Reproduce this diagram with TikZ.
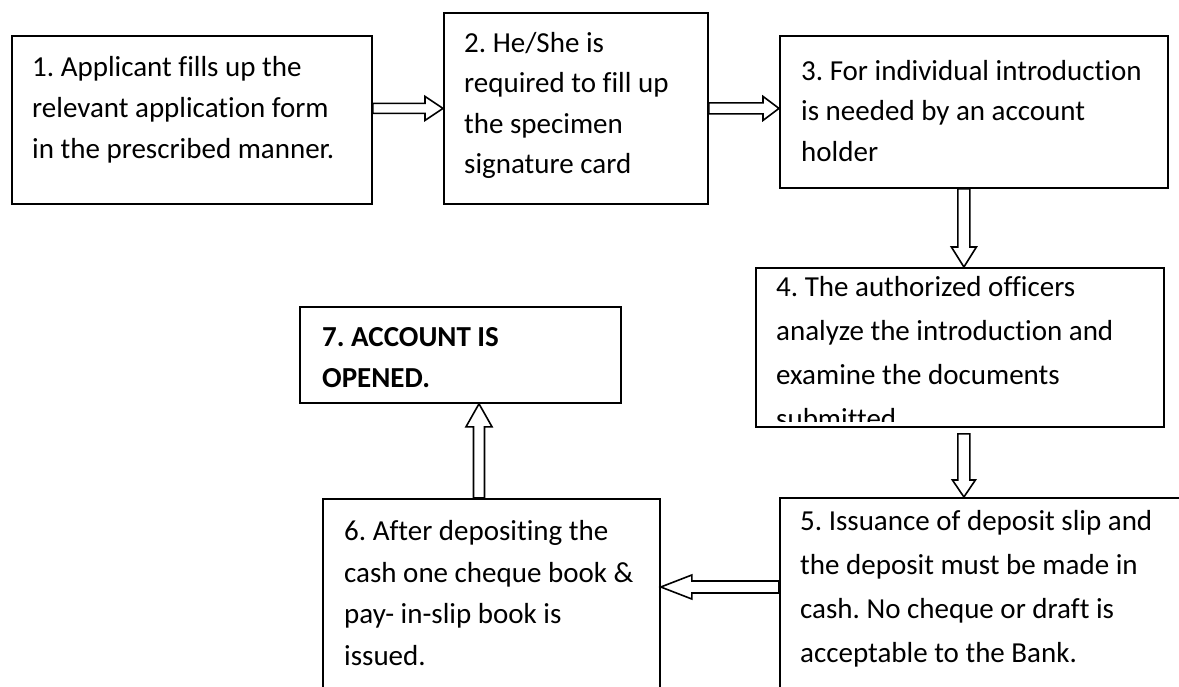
\documentclass[tikz,border=0pt]{standalone}
\usepackage{fontspec}
\setmainfont{Carlito}[Ligatures={NoCommon}]
\frenchspacing
\usetikzlibrary{calc}
\tikzset{
  box/.style={draw, line width=1.8pt, inner sep=0pt, anchor=north west},
  txt/.style={inner sep=0pt, anchor=north west, align=left},
  arrowdims/.code args={#1/#2/#3}{\def\arS{#1}\def\arH{#2}\def\arL{#3}},
  hollow/.style={draw, line width=1.6pt, line join=miter,
    to path={
      ($(\tikztotarget)!\arL!(\tikztostart)$) coordinate (hc)
      ($(\tikztostart)!\arS!90:(\tikztotarget)$)
      -- ($(hc)!\arS!90:(\tikztotarget)$)
      -- ($(hc)!\arH!90:(\tikztotarget)$)
      -- (\tikztotarget)
      -- ($(hc)!\arH!-90:(\tikztotarget)$)
      -- ($(hc)!\arS!-90:(\tikztotarget)$)
      -- ($(\tikztostart)!\arS!-90:(\tikztotarget)$)
      -- cycle}}
}
\begin{document}
\frenchspacing
\begin{tikzpicture}[x=1pt,y=-1pt]
\fill[white] (0,0) rectangle (1179,687);
\useasboundingbox (0,0) rectangle (1179,687);

% boxes
\node[box, minimum width=360pt, minimum height=168pt] (b1) at (11,35) {};
\node[box, minimum width=264pt, minimum height=191pt] (b2) at (443,12) {};
\node[box, minimum width=388pt, minimum height=152pt] (b3) at (779,35) {};
\node[box, minimum width=408pt, minimum height=159pt] (b4) at (755,267) {};
\node[box, minimum width=420pt, minimum height=230pt] (b5) at (779,497) {};
\node[box, minimum width=337pt, minimum height=230pt] (b6) at (322,498) {};
\node[box, minimum width=321pt, minimum height=96pt] (b7) at (299,306) {};

% texts
\node[txt, font={\fontsize{29}{41}\selectfont}] (t1) at (32,56)
  {1. Applicant fills up the\\relevant application form\\in the prescribed manner.};
\node[txt, font={\fontsize{29}{40.5}\selectfont}] (t2) at (464,32)
  {2. He/She is\\required to fill up\\the specimen\\signature card};
\node[txt, font={\fontsize{29}{40.5}\selectfont}] (t3) at (801,60)
  {3. For individual introduction\\is needed by an account\\holder};
\begin{scope}
  \clip (755,267) rectangle (1163,421);
  \node[txt, font={\fontsize{29}{44}\selectfont}] (t4) at (776,276)
    {4. The authorized officers\\analyze the introduction and\\examine the documents\\submitted};
\end{scope}
\node[txt, font={\fontsize{29}{44}\selectfont}] (t5) at (800,510)
  {5. Issuance of deposit slip and\\the deposit must be made in\\cash. No cheque or draft is\\acceptable to the Bank.};
\node[txt, font={\fontsize{29}{41.7}\selectfont}] (t6) at (344,520)
  {6. After depositing the\\cash one cheque book \&\\pay- in-slip book is\\issued.};
\node[txt, font={\bfseries\fontsize{29}{41}\selectfont}] (t7) at (322,327)
  {7. ACCOUNT IS\\OPENED.};

% arrow end points
\coordinate (a12s) at (b1.east |- b2.center);
\coordinate (a23t) at (b3.west |- b2.center);
\coordinate (a34s) at ($(b3.south)+(-10,0)$);
\coordinate (a34t) at (a34s |- b4.north);
\coordinate (a45s) at ($(b4.south)+(4,6)$);
\coordinate (a45t) at (a45s |- b5.north);
\coordinate (a56s) at ($(b5.north west)+(0,90)$);
\coordinate (a56t) at (a56s -| b6.east);
\coordinate (a67s) at ($(b6.north west)+(157,0)$);
\coordinate (a67t) at (a67s |- b7.south);

% hollow block arrows
\draw[arrowdims={5pt/12pt/18pt}, hollow] (a12s) to (b2.west);
\draw[arrowdims={5.5pt/12pt/16pt}, hollow] (b2.east) to (a23t);
\draw[arrowdims={6pt/12.5pt/20pt}, hollow] (a34s) to (a34t);
\draw[arrowdims={6pt/11.5pt/17pt}, hollow] (a45s) to (a45t);
\draw[arrowdims={6pt/12pt/31pt}, hollow] (a56s) to (a56t);
\draw[arrowdims={5.5pt/13pt/23pt}, hollow] (a67s) to (a67t);
\end{tikzpicture}
\end{document}
